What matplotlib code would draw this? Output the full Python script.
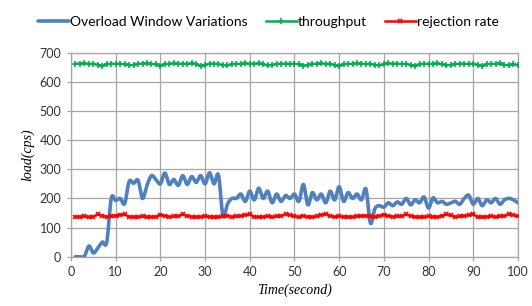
import numpy as np
import matplotlib
matplotlib.use("Agg")
import matplotlib.pyplot as plt

# time axis (seconds)
t = list(range(1, 101))

# load readings (cps)
overload_window = [
    0, 0, 2, 37, 13, 30, 50, 50, 200, 193,
    200, 182, 258, 252, 262, 200, 245, 278, 265, 250,
    287, 248, 265, 245, 278, 248, 275, 255, 278, 250,
    288, 250, 280, 140, 180, 200, 200, 215, 190, 225,
    195, 235, 200, 225, 185, 215, 190, 210, 200, 215,
    190, 248, 178, 220, 195, 215, 185, 225, 195, 240,
    190, 220, 200, 215, 195, 232, 115, 165, 175, 170,
    185, 175, 188, 180, 200, 178, 195, 185, 205, 167,
    202, 185, 190, 180, 185, 190, 180, 200, 211, 180,
    200, 175, 195, 185, 200, 180, 195, 200, 195, 185,
]
throughput = [
    662, 662, 663, 661, 662, 658, 655, 660, 662, 661,
    662, 660, 656, 658, 662, 662, 663, 661, 660, 655,
    660, 662, 663, 662, 662, 661, 663, 660, 655, 658,
    662, 662, 661, 657, 656, 660, 662, 661, 663, 662,
    662, 663, 660, 656, 658, 661, 662, 662, 661, 662,
    660, 655, 658, 662, 661, 663, 661, 662, 657, 655,
    660, 662, 661, 663, 662, 661, 662, 658, 656, 660,
    663, 662, 662, 661, 662, 657, 655, 660, 662, 661,
    662, 663, 660, 656, 658, 661, 662, 662, 661, 662,
    658, 655, 660, 662, 661, 663, 658, 656, 660, 657,
]
rejection_rate = [
    137, 137, 138, 136, 137, 145, 140, 137, 138, 140,
    143, 145, 137, 136, 137, 138, 137, 136, 137, 144,
    140, 137, 138, 139, 145, 140, 137, 136, 137, 138,
    137, 136, 137, 138, 140, 137, 138, 140, 143, 145,
    137, 136, 137, 138, 137, 138, 140, 146, 143, 138,
    137, 140, 137, 136, 138, 143, 146, 140, 137, 138,
    137, 136, 137, 138, 140, 141, 138, 137, 140, 144,
    140, 137, 138, 139, 145, 140, 137, 136, 137, 138,
    137, 136, 140, 145, 142, 137, 138, 140, 143, 145,
    137, 136, 137, 138, 137, 138, 140, 146, 143, 138,
]

x_ticks = list(range(0, 101, 10))
y_ticks = list(range(0, 701, 100))


def smooth(x, y, n=12):
    # Catmull-Rom style smoothing, similar to Excel "smoothed line"
    x = np.asarray(x, float)
    y = np.asarray(y, float)
    px = np.concatenate([[2 * x[0] - x[1]], x, [2 * x[-1] - x[-2]]])
    py = np.concatenate([[2 * y[0] - y[1]], y, [2 * y[-1] - y[-2]]])
    s = np.linspace(0, 1, n, endpoint=False)
    xs, ys = [], []
    for i in range(1, len(px) - 2):
        for arr, out in ((px, xs), (py, ys)):
            p0, p1, p2, p3 = arr[i - 1], arr[i], arr[i + 1], arr[i + 2]
            out.extend(0.5 * (2 * p1 + (-p0 + p2) * s
                              + (2 * p0 - 5 * p1 + 4 * p2 - p3) * s ** 2
                              + (-p0 + 3 * p1 - 3 * p2 + p3) * s ** 3))
    xs.append(x[-1])
    ys.append(y[-1])
    return xs, ys


fig = plt.figure(figsize=(5.32, 3.06), dpi=100)
ax = fig.add_axes([0.1335, 0.161, 0.840, 0.667])

tick_font = "Lato"
bx, by = smooth(t, overload_window)
ax.plot(bx, by, color="#4f81bd", lw=2.6, label="Overload Window Variations",
        solid_capstyle="round", zorder=3)
ax.plot(t, throughput, color="#00b050", lw=1.8, marker="+", ms=4, mew=1.2,
        label="throughput", zorder=3)
ax.plot(t, rejection_rate, color="#ff0000", lw=1.8, marker="x", ms=3.5, mew=1.2,
        label="rejection rate", zorder=3)

ax.set_xlim(0, 100)
ax.set_ylim(0, 700)
ax.set_xticks(x_ticks)
ax.set_yticks(y_ticks)
ax.grid(True, color="#a6a6a6", lw=0.9)
ax.set_axisbelow(True)
for sp in ax.spines.values():
    sp.set_color("#a6a6a6")
    sp.set_linewidth(0.9)
ax.tick_params(axis="both", colors="#a6a6a6", length=3, width=0.9,
               labelcolor="#333333", labelsize=9, pad=4)
for lab in ax.get_xticklabels() + ax.get_yticklabels():
    lab.set_fontfamily(tick_font)

ax.set_xlabel("Time(second)", family="Liberation Serif", style="italic",
              fontsize=10, labelpad=4)
ax.set_ylabel("load(cps)", family="Liberation Serif", style="italic",
              fontsize=10, labelpad=4)

fig.legend(loc="center", bbox_to_anchor=(0.505, 0.928), ncol=3, frameon=False,
           prop={"family": tick_font, "size": 10}, handlelength=2.2,
           handletextpad=0.1, columnspacing=1.3)

fig.savefig("out.png", dpi=100)
